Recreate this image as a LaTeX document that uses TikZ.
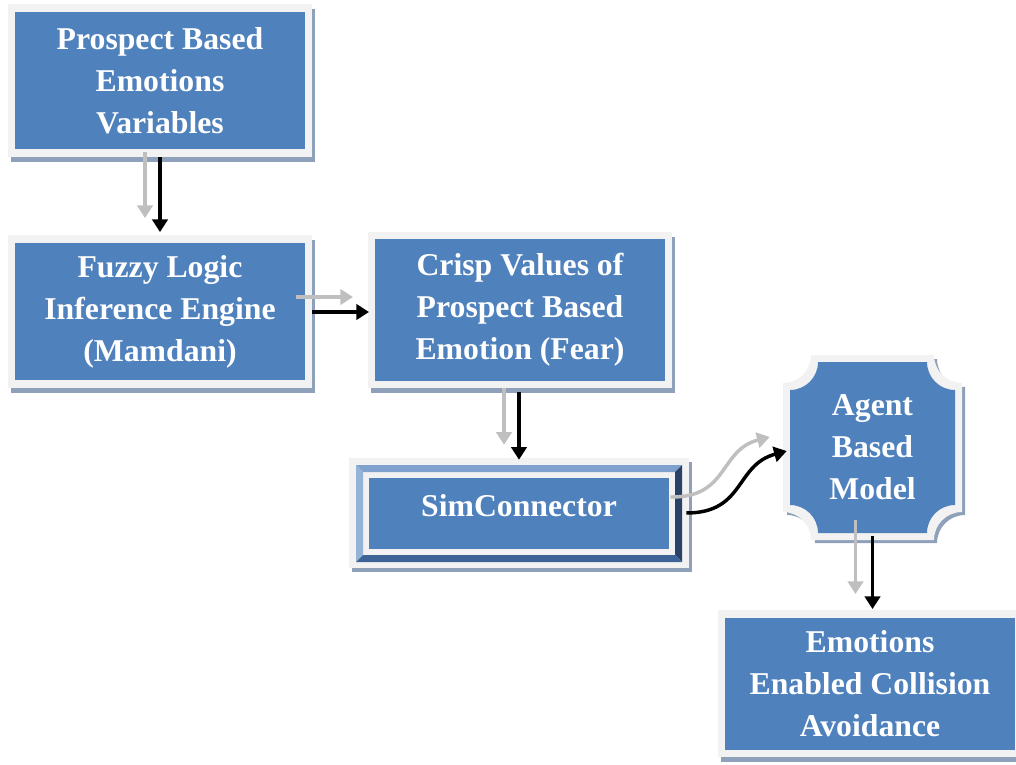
\documentclass[tikz,border=0pt]{standalone}
\usepackage{fontspec}
\setmainfont{Liberation Serif}
\usetikzlibrary{arrows.meta}
\definecolor{boxblue}{RGB}{79,129,189}
\definecolor{framegray}{RGB}{242,242,242}
\definecolor{shadowgray}{RGB}{143,160,186}
\definecolor{arrowgray}{RGB}{191,191,191}
\definecolor{bevellight}{RGB}{149,179,215}
\definecolor{beveltop}{RGB}{127,161,206}
\definecolor{beveldark}{RGB}{40,66,104}
\definecolor{bevelbottom}{RGB}{62,99,150}
\newcommand\plaquepath[5]{(#1+#5,#2) -- (#3-#5,#2) arc[start angle=180,end angle=90,radius=#5]
  -- (#3,#4-#5) arc[start angle=270,end angle=180,radius=#5]
  -- (#1+#5,#4) arc[start angle=0,end angle=-90,radius=#5]
  -- (#1,#2+#5) arc[start angle=90,end angle=0,radius=#5] -- cycle}
\begin{document}
\begin{tikzpicture}[x=0.75pt,y=-0.75pt,font=\fontsize{23.8}{31.5}\selectfont\bfseries,
box/.style={draw=framegray,fill=boxblue,line width=5.6pt,text=white,align=center,inner sep=0pt,
  minimum width=222.4pt,minimum height=109pt,
  preaction={draw=shadowgray,fill=shadowgray,line width=5.6pt,transform canvas={xshift=2.5pt,yshift=-3.5pt}}},
txt/.style={text=white,align=center,inner sep=0pt},
blk/.style={draw=black,line width=2.6pt,-{Triangle[length=9.5pt,width=11.5pt]}},
gry/.style={draw=arrowgray,line width=2.6pt,-{Triangle[length=9.5pt,width=11.5pt]}}]
\useasboundingbox (0,0) rectangle (1016,764);
\path (160,80.5) node(pbe) [box] {Prospect Based\\Emotions\\Variables};
\path (160,311.5) node(fuzzy) [box] {Fuzzy Logic\\Inference Engine\\(Mamdani)};
\path (520,310) node(crisp) [box,minimum height=111.4pt] {Crisp Values of\\Prospect Based\\Emotion (Fear)};
\path (870,683.5) node(emo) [box,minimum height=104.6pt] {Emotions\\Enabled Collision\\Avoidance};
\fill[shadowgray] (352,462) rectangle (692,572);
\fill[framegray] (349,458) rectangle (689,568);
\fill[beveltop] (356,465) -- (682,465) -- (675,472) -- (363,472) -- cycle;
\fill[bevellight] (356,465) -- (363,472) -- (363,555) -- (356,562) -- cycle;
\fill[beveldark] (682,465) -- (682,562) -- (675,555) -- (675,472) -- cycle;
\fill[bevelbottom] (356,562) -- (682,562) -- (675,555) -- (363,555) -- cycle;
\fill[boxblue] (369,478) rectangle (669,549);
\path (519,513) node(simcon) [txt,minimum width=255pt,minimum height=82.5pt,text depth=12pt] {SimConnector};
\fill[shadowgray] \plaquepath{787}{359}{965}{543}{28};
\fill[framegray] \plaquepath{783}{355}{962}{540}{28};
\fill[boxblue] \plaquepath{790}{362}{955}{533}{28};
\path (872.5,447.5) node(agent) [txt,minimum width=134.25pt,minimum height=138.75pt] {Agent\\Based\\Model};
\draw[gry] ([shift={(-15,-5)}]pbe.south) -- ([shift={(-15,-17)}]fuzzy.north);
\draw[blk] (pbe.south) -- ([shift={(0,-3)}]fuzzy.north);
\draw[gry] ([shift={(-16,-14.5)}]fuzzy.east) -- ([shift={(-15,-13)}]crisp.west);
\draw[blk] ([shift={(0,0.5)}]fuzzy.east) -- ([shift={(1,2)}]crisp.west);
\draw[gry] ([shift={(-16,0)}]crisp.south) -- ([shift={(-15,-13)}]simcon.north);
\draw[blk] ([shift={(-1,4)}]crisp.south) -- ([shift={(0,2)}]simcon.north);
\draw[gry] ([shift={(-19,-16)}]simcon.east) .. controls (729,498) and (719,450) .. ([shift={(-13,-10.5)}]agent.west);
\draw[blk] ([shift={(-3,0)}]simcon.east) .. controls (745,513) and (735,465) .. ([shift={(4,3.5)}]agent.west);
\draw[gry] ([shift={(-17,-20)}]agent.south) -- ([shift={(-17,-16)}]agent.south |- emo.north);
\draw[blk] ([shift={(0,-4)}]agent.south) -- ([shift={(0,-1)}]agent.south |- emo.north);
\end{tikzpicture}
\end{document}
